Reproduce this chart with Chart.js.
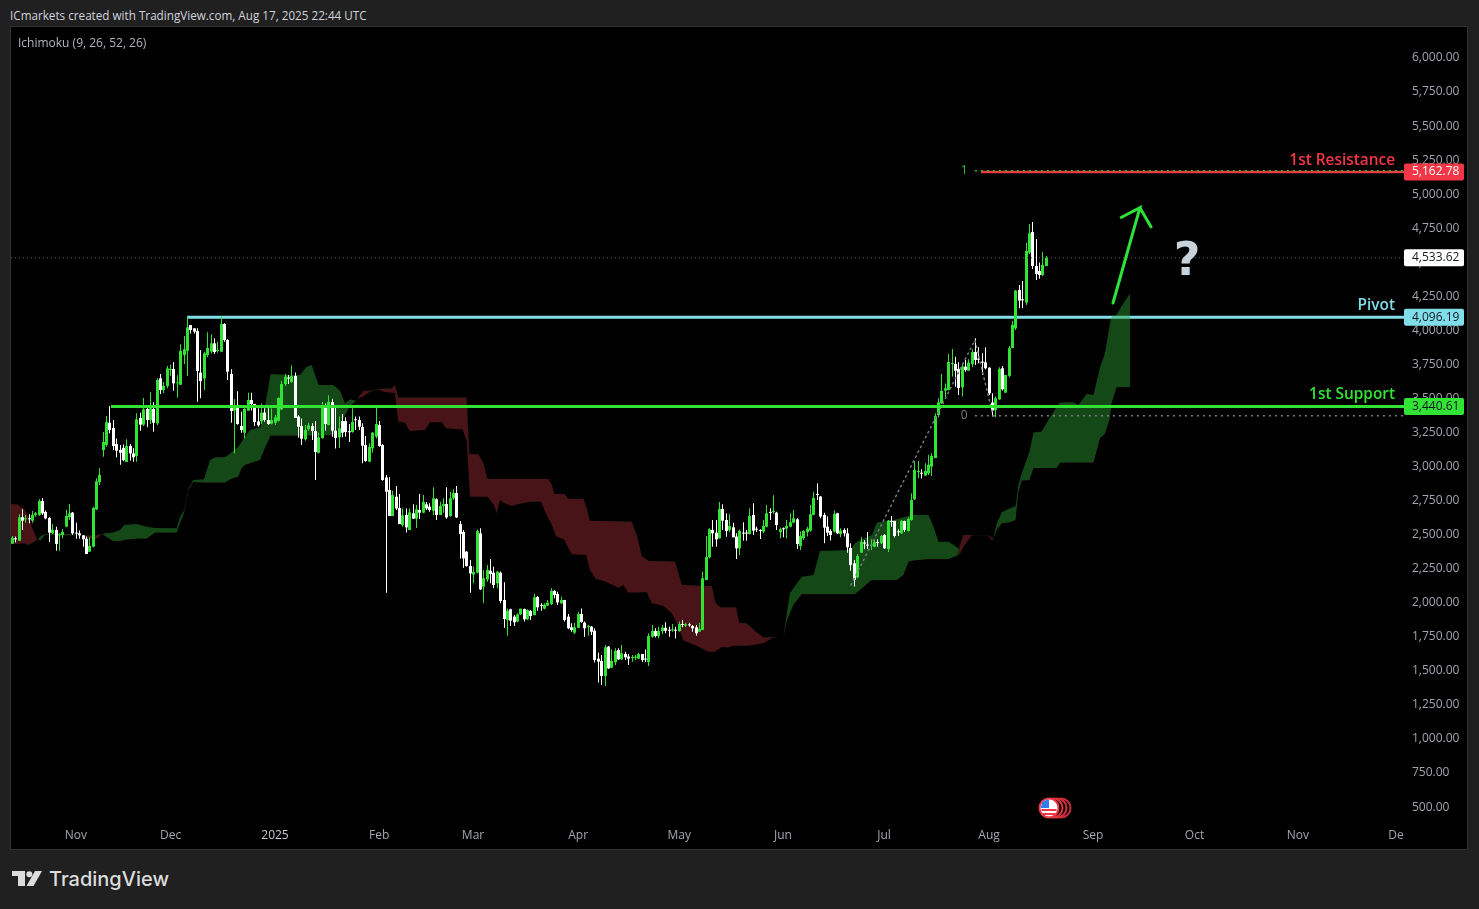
<!DOCTYPE html>
<html>
<head>
<meta charset="utf-8">
<title>ICmarkets chart</title>
<script src="https://cdn.jsdelivr.net/npm/chart.js@4/dist/chart.umd.min.js"></script>
<style>
    html, body { margin: 0; padding: 0; width: 1479px; height: 909px; background: #202020; overflow: hidden; }
    body { position: relative; font-family: "Open Sans", sans-serif; }
    .header { position: absolute; left: 10px; top: 7px; font-size: 11.7px; color: #d1d4dc; white-space: nowrap; }
    .pane { position: absolute; left: 10px; top: 26px; width: 1456px; height: 822px; border: 1px solid #333; background: #000; }
    .legend { position: absolute; left: 18px; top: 34px; font-size: 12px; color: #b2b5be; white-space: nowrap; }
    .brand { position: absolute; left: 49px; top: 867px; font-family: Inter, sans-serif; font-weight: 500; font-size: 20px; color: #dcdcdc; white-space: nowrap; }
    svg { position: absolute; }
</style>
</head>
<body>
<div class="header">ICmarkets created with TradingView.com, Aug 17, 2025 22:44 UTC</div>
<div class="pane"><canvas id="chart" width="1456" height="822"></canvas></div>
<div class="legend">Ichimoku (9, 26, 52, 26)</div>

<svg style="left:1036px;top:795px" width="38" height="26">
    <circle cx="25" cy="13" r="9.5" fill="none" stroke="#c92c38" stroke-width="2"/>
    <circle cx="21" cy="13" r="9.5" fill="#000" stroke="#d92f3c" stroke-width="2"/>
    <circle cx="17" cy="13" r="9.5" fill="#000" stroke="#e6323f" stroke-width="2"/>
    <circle cx="13" cy="13" r="9.5" fill="#fff" stroke="#f23645" stroke-width="2"/>
    <path d="M5.5 14h15v2h-15zM6.5 18h13v2h-13z" fill="#f23645"/>
    <path d="M6 8a8.5 8.5 0 0 1 7-3.5V13H4.6z" fill="#2f7df0"/>
</svg>
<svg style="left:12px;top:871px" width="32" height="16" fill="#dcdcdc">
    <path d="M0 0H13V15H6V5H0Z"/>
    <circle cx="17.3" cy="3.2" r="3"/>
    <path d="M23 0H30L21.5 15H14.5Z"/>
</svg>
<div class="brand">TradingView</div>

<script>
    // Daily candles
    const opens = [
        2427,2466,2449,2621,2606,2611,2596,2638,2638,2740,
        2660,2616,2503,2528,2488,2491,2552,2621,2655,2506,
        2503,2488,2464,2368,2405,2679,2880,3115,3152,3315,
        3276,3159,3115,3130,3027,3144,3090,3071,3350,3301,
        3416,3335,3416,3311,3641,3555,3585,3702,3709,3604,
        3594,3812,3844,4032,4008,3988,3683,3639,3812,3837,
        3898,3842,3837,4040,3922,3673,3404,3443,3291,3242,
        3404,3482,3453,3325,3325,3389,3335,3308,3315,3330,
        3413,3599,3643,3614,3658,3360,3291,3193,3267,3291,
        3254,3095,3203,3423,3298,3467,3257,3208,3328,3328,
        3249,3247,3337,3335,3284,3152,3029,3127,3213,3298,
        3151,2914,2821,2630,2772,2689,2564,2638,2527,2650,
        2611,2674,2655,2716,2699,2669,2753,2638,2704,2718,
        2630,2760,2799,2571,2513,2368,2263,2200,2214,2503,
        2111,2165,2229,2214,2136,2214,2014,1867,1945,1891,
        1855,1908,1947,1872,1933,1903,2036,1974,1950,1972,
        1984,2080,2058,1989,2014,1891,1813,1774,1810,1911,
        1847,1815,1818,1788,1583,1566,1456,1671,1517,1556,
        1646,1578,1617,1598,1588,1590,1583,1617,1580,1558,
        1744,1786,1749,1786,1810,1793,1791,1793,1786,1835,
        1825,1833,1823,1813,1781,1793,2160,2327,2527,2508,
        2466,2682,2601,2527,2547,2479,2393,2506,2506,2498,
        2638,2535,2525,2516,2552,2657,2660,2655,2513,2538,
        2538,2552,2582,2606,2410,2467,2513,2523,2638,2790,
        2773,2638,2552,2520,2516,2650,2498,2528,2503,2396,
        2283,2180,2361,2432,2418,2413,2405,2437,2430,2491,
        2388,2592,2594,2516,2503,2594,2520,2601,2753,2954,
        2946,2927,2944,2993,3056,3372,3458,3551,3556,3746,
        3746,3710,3575,3727,3697,3746,3834,3783,3761,3759,
        3719,3463,3409,3487,3715,3536,3659,3864,4008,4290,
        4219,4197,4564,4716,4466,4429,4400,4466
    ];
    const closes = [
        2471,2459,2621,2596,2613,2606,2638,2650,2740,2650,
        2613,2508,2528,2425,2493,2513,2630,2650,2503,2501,
        2488,2459,2351,2410,2689,2885,2931,3174,3320,3262,
        3144,3110,3095,3041,3144,3090,3061,3340,3301,3413,
        3335,3421,3315,3629,3555,3585,3714,3707,3604,3609,
        3842,3854,4015,3996,3984,3695,3621,3824,3864,3898,
        3834,3846,4040,3922,3690,3401,3445,3306,3262,3416,
        3482,3453,3320,3296,3389,3335,3306,3335,3355,3497,
        3599,3653,3639,3658,3350,3286,3198,3262,3296,3254,
        3100,3208,3428,3306,3467,3257,3203,3274,3242,3247,
        3245,3320,3333,3286,3147,3034,3137,3242,3306,3144,
        2895,2809,2630,2784,2686,2571,2635,2547,2657,2611,
        2679,2655,2733,2686,2674,2760,2638,2704,2718,2620,
        2760,2799,2620,2498,2319,2263,2209,2219,2520,2092,
        2173,2234,2204,2124,2222,2006,1874,1935,1862,1850,
        1908,1950,1872,1940,1896,2033,1960,1970,1979,1994,
        2080,2050,1996,2014,1867,1806,1793,1813,1911,1852,
        1806,1820,1781,1573,1561,1456,1666,1512,1566,1639,
        1578,1622,1593,1583,1593,1595,1617,1573,1576,1749,
        1786,1749,1786,1810,1788,1788,1796,1788,1837,1830,
        1835,1828,1806,1769,1801,2173,2329,2532,2503,2459,
        2682,2596,2520,2557,2474,2393,2520,2501,2501,2630,
        2523,2530,2520,2557,2650,2653,2665,2564,2533,2533,
        2557,2584,2613,2425,2484,2520,2538,2643,2763,2785,
        2626,2545,2508,2491,2645,2503,2523,2503,2401,2271,
        2161,2337,2440,2428,2413,2418,2440,2432,2484,2393,
        2596,2587,2484,2511,2594,2528,2609,2748,2968,2958,
        2941,2961,3007,3071,3365,3465,3548,3568,3761,3751,
        3697,3570,3727,3702,3756,3834,3776,3778,3756,3715,
        3531,3404,3495,3710,3561,3666,3862,4033,4285,4212,
        4214,4576,4706,4466,4407,4400,4473,4527
    ];
    const highs = [
        2484,2479,2643,2679,2638,2643,2667,2660,2753,2762,
        2670,2625,2572,2552,2503,2535,2674,2718,2660,2581,
        2523,2491,2479,2474,2699,2907,2983,3247,3364,3438,
        3335,3200,3152,3156,3193,3159,3127,3384,3389,3497,
        3445,3538,3465,3641,3673,3614,3731,3739,3761,3663,
        3891,3952,4089,4032,4008,4008,3849,3837,3979,3964,
        3935,3910,4099,4045,3930,3707,3489,3546,3396,3433,
        3536,3536,3453,3421,3457,3421,3421,3421,3372,3501,
        3624,3673,3665,3736,3683,3372,3347,3298,3315,3311,
        3328,3242,3467,3457,3516,3492,3438,3360,3379,3355,
        3306,3421,3360,3360,3311,3218,3164,3247,3425,3328,
        3159,2931,2914,2816,2850,2792,2686,2686,2686,2716,
        2711,2792,2784,2733,2723,2841,2760,2735,2760,2841,
        2809,2826,2850,2594,2527,2373,2307,2258,2532,2540,
        2234,2270,2315,2258,2226,2222,2143,1952,1950,1903,
        1916,1950,1952,1945,1940,2058,2043,1989,1989,2014,
        2099,2087,2075,2038,2014,1911,1842,1847,1928,1952,
        1855,1830,1823,1806,1627,1610,1683,1676,1651,1659,
        1659,1683,1634,1617,1610,1610,1627,1617,1651,1769,
        1830,1806,1818,1830,1850,1818,1837,1818,1855,1867,
        1847,1847,1830,1830,1847,2222,2483,2540,2601,2601,
        2733,2716,2650,2645,2581,2503,2532,2584,2527,2687,
        2724,2552,2533,2601,2711,2687,2782,2662,2545,2545,
        2601,2650,2675,2613,2516,2528,2552,2711,2809,2870,
        2777,2655,2626,2533,2670,2655,2540,2540,2540,2430,
        2308,2352,2474,2454,2513,2459,2454,2459,2491,2498,
        2601,2631,2596,2533,2601,2596,2621,2797,3034,3034,
        2973,3017,3078,3091,3384,3494,3673,3604,3820,3857,
        3800,3759,3751,3776,3781,3854,3935,3869,3825,3869,
        3722,3531,3507,3722,3732,3666,3879,4062,4290,4327,
        4356,4637,4774,4789,4664,4491,4569,4540
    ];
    const lows = [
        2427,2435,2449,2528,2581,2577,2581,2625,2630,2638,
        2606,2440,2496,2376,2376,2469,2547,2601,2493,2464,
        2464,2405,2351,2368,2400,2674,2858,3066,3139,3237,
        3115,3061,3007,3032,3027,3037,3029,3029,3257,3291,
        3281,3306,3249,3298,3526,3531,3568,3658,3550,3499,
        3592,3746,3658,3971,3971,3470,3494,3555,3795,3824,
        3820,3829,3834,3910,3629,3315,3090,3301,3242,3200,
        3404,3404,3291,3286,3306,3323,3298,3303,3298,3325,
        3408,3585,3599,3609,3350,3205,3152,3183,3257,3188,
        2895,3090,3198,3257,3296,3213,3125,3130,3208,3213,
        3174,3242,3262,3262,3017,3029,3027,3095,3200,3139,
        2890,2067,2630,2630,2674,2571,2552,2510,2527,2611,
        2542,2608,2650,2674,2662,2635,2601,2635,2655,2611,
        2625,2748,2616,2319,2251,2258,2067,2136,2209,2087,
        1989,2148,2136,2099,2099,1989,1810,1752,1823,1823,
        1850,1903,1855,1867,1867,1901,1935,1935,1945,1970,
        1977,2026,1977,1984,1855,1798,1781,1764,1806,1847,
        1744,1752,1757,1554,1407,1390,1382,1507,1512,1536,
        1573,1573,1573,1536,1561,1573,1578,1558,1558,1529,
        1737,1739,1732,1764,1769,1744,1781,1730,1781,1813,
        1813,1818,1781,1752,1781,1793,2160,2319,2405,2405,
        2466,2527,2478,2513,2474,2315,2344,2449,2449,2494,
        2491,2513,2462,2503,2547,2601,2645,2528,2467,2474,
        2467,2547,2577,2388,2381,2454,2479,2516,2635,2748,
        2613,2430,2484,2450,2511,2498,2474,2479,2361,2229,
        2112,2173,2361,2386,2388,2381,2401,2405,2425,2388,
        2366,2552,2472,2484,2498,2513,2516,2596,2748,2907,
        2905,2924,2932,2924,3054,3355,3453,3494,3551,3653,
        3580,3519,3507,3690,3697,3722,3739,3751,3666,3707,
        3519,3360,3355,3482,3551,3536,3649,3862,3996,4155,
        4155,4180,4554,4444,4363,4373,4393,4466
    ];

    // Ichimoku cloud edges, sampled at the bends (bar index, span A, span B)
    const kumoX = [
        -0.4,1.3,3.3,4.8,6.2,7.4,8.4,9.7,18.1,22.1,24.6,26.5,27.5,30,32,33.2,36.9,39.9,42.4,48.8,
        49.8,51,52.3,53.8,56.9,58.7,60.2,63.2,64.7,67.1,68.1,69.1,70.6,73.6,75,76.7,82.5,85.4,87.4,88.9,
        90.9,95.3,97.3,98.8,100.3,101.8,102.3,104.3,106.2,108.4,110.2,112.6,113.6,114.6,116.6,117.9,122.5,124,127.5,128.8,
        133.7,134.9,135.7,135.9,138.4,139.9,141.1,143,143.8,144.8,145.8,148.3,150.3,153.7,157,158.2,159.2,160.2,161,161.5,
        163.6,163.9,165.1,166.1,169.6,170.4,171.5,173.3,175.5,180,181.4,182.9,183.9,185.4,186.9,188.4,188.9,189.9,193.3,195.8,
        196.8,198.8,199.3,202.7,206.7,207.7,208.7,209.2,210.2,210.7,212.6,214.1,214.9,215.8,218.1,220.5,223,225.5,227.5,229,
        230.1,230.9,231.9,234.4,237.9,239.8,248.8,250.2,251.7,255.2,256.7,258.2,262.6,264.6,266.1,267.6,272,273.5,275,278,
        280.9,281.2,282.4,284.9,289.4,291,291.3,292.3,293.8,296.2,297.9,298.7,299.7,302,303.2,305.6,307.6,310.1,311.1,315,
        316.5,319,321,323,324.4,325.9,326.4,327.9,329.9,331.9
    ];
    const kumoA = [
        2430,2425,2430,2417,2435,2454,2484,2496,2496,2474,2454,2493,2503,2510,2528,2564,2572,2552,2542,2540,
        2625,2670,2833,2895,2900,3041,3061,3061,3090,3139,3176,3213,3262,3281,3433,3673,3665,3665,3727,3739,
        3592,3592,3550,3457,3487,3477,3489,3510,3543,3560,3543,3535,3531,3323,3315,3254,3262,3318,3318,3274,
        3266,3183,2850,2772,2772,2772,2772,2711,2650,2748,2728,2704,2718,2735,2735,2662,2610,2564,2510,2479,
        2461,2455,2395,2349,2345,2344,2234,2165,2155,2104,2124,2067,2068,2069,2070,2070,2040,1989,1970,1916,
        1870,1745,1715,1683,1634,1634,1634,1645,1660,1671,1664,1678,1678,1678,1678,1685,1696,1733,1740,1745,
        1940,2063,2100,2185,2197,2374,2381,2430,2454,2491,2582,2589,2606,2621,2631,2638,2638,2552,2442,2442,
        2393,2344,2405,2489,2489,2449,2470,2577,2658,2687,2704,2858,2944,3103,3243,3250,3335,3433,3463,3465,
        3446,3526,3519,3727,3825,4045,4094,4110,4192,4265
    ];
    const kumoB = [
        2718,2716,2687,2625,2528,2459,2449,2491,2488,2488,2488,2498,2484,2444,2444,2454,2464,2464,2508,2508,
        2577,2650,2821,2880,2875,2875,2875,2875,2900,2919,2980,3005,3017,3041,3127,3220,3220,3220,3220,3220,
        3220,3225,3286,3372,3438,3470,3489,3550,3550,3562,3564,3567,3592,3501,3501,3501,3501,3501,3501,3501,
        3501,3501,3085,3085,3083,3017,2902,2902,2902,2902,2902,2902,2902,2902,2902,2902,2902,2858,2792,2792,
        2792,2792,2755,2755,2755,2700,2594,2594,2594,2592,2590,2590,2589,2491,2337,2310,2300,2300,2298,2296,
        2295,2124,2123,2120,2117,2116,2000,1982,1960,1960,1960,1960,1960,1847,1842,1786,1740,1740,1740,1745,
        1867,1916,1977,2056,2056,2056,2056,2056,2087,2161,2161,2161,2161,2197,2295,2303,2312,2312,2312,2312,
        2344,2405,2491,2491,2491,2470,2465,2528,2577,2582,2601,2797,2890,2895,2981,2981,2981,2983,3022,3022,
        3022,3022,3022,3201,3233,3348,3458,3575,3575,3575
    ];
    // The candle and cloud readings above came out about 1px low against the axis labels
    const READ_BIAS = 7;

    // Axis labels
    const priceTicks = [500,750,1000,1250,1500,1750,2000,2250,2500,2750,3000,3250,3500,3750,4000,4250,4500,4750,5000,5250,5500,5750,6000];
    const monthLabels = ['Nov','Dec','2025','Feb','Mar','Apr','May','Jun','Jul','Aug','Sep','Oct','Nov','De'];
    const monthBars = [18.9,47,78,108.9,136.8,168,198,228.8,258.8,290,320.9,351,381.7,410.8];

    // Drawn levels: price and the bar they start from
    const lastPrice = 4533.62;
    const resistance = 5162.78;
    const pivot = 4096.19;
    const support = 3440.61;
    const fibOne = 5173;
    const fibZero = 3374;
    const trendX = [249, 285.8, 291.2];
    const trendY = [2131, 3929, 3372];
    const arrowX = [326.8, 334.8, 328.9, 334.8, 338.1];
    const arrowY = [4201, 4901, 4825, 4901, 4759];

    const GREEN = '#32e336';
    const RED = '#f23645';
    const CYAN = '#80deea';
    const GREY = '#787b86';
    const X_MIN = -0.386, X_MAX = 413.2;

    const upOrDown = closes.map((c, i) => (c >= opens[i] ? GREEN : '#ffffff'));
    const money = v => v.toLocaleString('en-US', { minimumFractionDigits: 2, maximumFractionDigits: 2 });

    function hLine(price, fromBar, color, width, dash, order) {
        return {
            type: 'line',
            data: [{ x: fromBar, y: price }, { x: X_MAX, y: price }],
            borderColor: color,
            borderWidth: width,
            borderDash: dash || [],
            pointRadius: 0,
            order: order
        };
    }
    function polyLine(xs, ys, color, width, dash, order) {
        return {
            type: 'line',
            data: xs.map((x, i) => ({ x: x, y: ys[i] })),
            borderColor: color,
            borderWidth: width,
            borderDash: dash || [],
            borderCapStyle: 'round',
            pointRadius: 0,
            tension: 0,
            order: order
        };
    }

    // Snap candles to whole pixels so bodies and wicks stay crisp
    const snapBars = {
        id: 'snapBars',
        afterDatasetsUpdate(chart) {
            chart.getSortedVisibleDatasetMetas().forEach(meta => {
                if (meta.type !== 'bar') return;
                meta.data.forEach(bar => { bar.x = Math.floor(bar.x) + 0.5; });
            });
        }
    };

    // Price tags, level names and chart notes
    const overlay = {
        id: 'overlay',
        afterDraw(chart) {
            const { ctx, chartArea, scales } = chart;
            const y = scales.y, x = scales.x;

            function tag(price, bg, fg) {
                const py = y.getPixelForValue(price);
                ctx.fillStyle = bg;
                ctx.beginPath();
                ctx.roundRect(chartArea.right, py - 8.5, 60, 17, 2);
                ctx.fill();
                ctx.fillStyle = fg;
                ctx.font = '12px "Open Sans"';
                ctx.textAlign = 'left';
                ctx.textBaseline = 'middle';
                ctx.fillText(money(price), chartArea.right + 8, py);
            }
            function name(text, price, color) {
                ctx.fillStyle = color;
                ctx.font = '600 15.4px "Open Sans"';
                ctx.textAlign = 'right';
                ctx.textBaseline = 'bottom';
                ctx.fillText(text, chartArea.right - 9, y.getPixelForValue(price) - 4);
            }
            function note(text, bar, price, color, font) {
                ctx.fillStyle = color;
                ctx.font = font;
                ctx.textAlign = 'center';
                ctx.textBaseline = 'middle';
                ctx.fillText(text, x.getPixelForValue(bar), y.getPixelForValue(price));
            }

            ctx.save();
            tag(lastPrice, '#ffffff', '#131722');
            tag(resistance, RED, '#ffffff');
            tag(pivot, CYAN, '#131722');
            tag(support, GREEN, '#131722');
            name('1st Resistance', resistance, RED);
            name('Pivot', pivot, CYAN);
            name('1st Support', support, GREEN);
            note('1', 282.6, fibOne, '#2bc22f', '12px "Open Sans"');
            note('0', 282.6, fibZero, GREY, '12px "Open Sans"');
            note('?', 348.8, 4495, '#c8d2da', 'bold 46px "DejaVu Sans"');
            ctx.restore();
        }
    };

    const bars = closes.map((c, i) => i);

    new Chart(document.getElementById('chart').getContext('2d'), {
        type: 'bar',
        data: {
            datasets: [
                hLine(pivot, 51.9, CYAN, 3, null, 7),
                {
                    type: 'line',
                    data: kumoX.map((x, i) => ({ x: x, y: kumoA[i] + READ_BIAS })),
                    borderWidth: 0,
                    pointRadius: 0,
                    tension: 0,
                    fill: { target: '+1', above: 'rgba(44,160,49,0.45)', below: 'rgba(160,44,53,0.45)' },
                    order: 6
                },
                {
                    type: 'line',
                    data: kumoX.map((x, i) => ({ x: x, y: kumoB[i] + READ_BIAS })),
                    borderWidth: 0,
                    pointRadius: 0,
                    tension: 0,
                    order: 6
                },
                {
                    // wicks
                    data: bars.map(i => ({ x: i, y: [lows[i] + READ_BIAS, highs[i] + READ_BIAS] })),
                    backgroundColor: upOrDown,
                    barThickness: 1,
                    grouped: false,
                    inflateAmount: 0,
                    order: 5
                },
                {
                    // bodies
                    data: bars.map(i => ({ x: i, y: [Math.min(opens[i], closes[i]) + READ_BIAS, Math.max(opens[i], closes[i]) + READ_BIAS] })),
                    backgroundColor: upOrDown,
                    barThickness: 3,
                    minBarLength: 1,
                    grouped: false,
                    inflateAmount: 0,
                    order: 4
                },
                hLine(lastPrice, X_MIN, '#5d606b', 1, [1, 3], 3),
                polyLine(trendX, trendY, GREY, 1.5, [1.5, 4], 3),
                hLine(fibZero, 285.8, GREY, 1.5, [2, 4], 3),
                hLine(resistance, 287.6, RED, 2.5, null, 3),
                hLine(fibOne, 285.8, '#22c02a', 1.5, [2, 4], 2),
                hLine(support, 29.3, GREEN, 3, null, 2),
                polyLine(arrowX, arrowY, '#2ee23a', 3, null, 1)
            ]
        },
        plugins: [snapBars, overlay],
        options: {
            responsive: false,
            animation: false,
            events: [],
            layout: { padding: 0 },
            plugins: { legend: { display: false }, tooltip: { enabled: false } },
            scales: {
                x: {
                    type: 'linear',
                    offset: false,
                    min: X_MIN,
                    max: X_MAX,
                    grid: { display: false, drawTicks: false },
                    border: { display: false },
                    afterBuildTicks(axis) { axis.ticks = monthBars.map(v => ({ value: v })); },
                    afterFit(axis) { axis.height = 29; axis.paddingLeft = 0; axis.paddingRight = 0; },
                    ticks: {
                        autoSkip: false,
                        maxRotation: 0,
                        padding: 8,
                        color: ctx => (monthLabels[monthBars.indexOf(ctx.tick.value)] === '2025' ? '#c8cad0' : '#a3a6af'),
                        font: { family: 'Open Sans', size: 12 },
                        callback: value => monthLabels[monthBars.indexOf(value)]
                    }
                },
                y: {
                    position: 'right',
                    min: 405.3,
                    max: 6227.6,
                    grid: { display: false, drawTicks: false },
                    border: { display: false },
                    afterBuildTicks(axis) { axis.ticks = priceTicks.map(v => ({ value: v })); },
                    afterFit(axis) { axis.width = 63; axis.paddingTop = 0; axis.paddingBottom = 0; },
                    ticks: {
                        padding: 8,
                        color: '#a3a6af',
                        font: { family: 'Open Sans', size: 12 },
                        callback: value => money(value)
                    }
                }
            }
        }
    });
</script>
</body>
</html>
